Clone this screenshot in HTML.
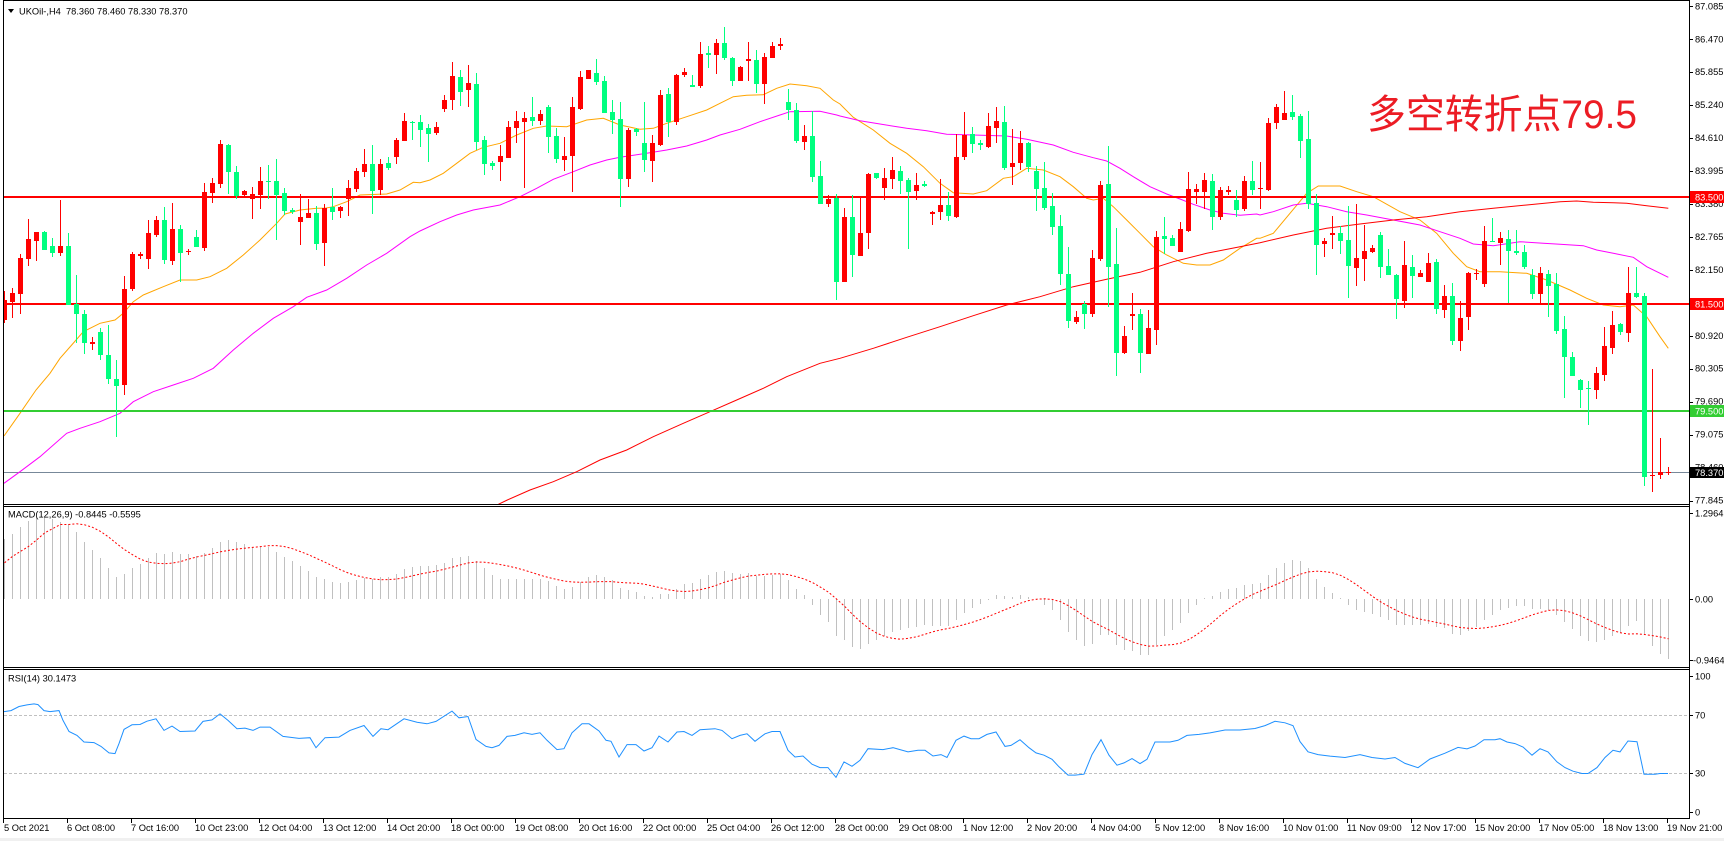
<!DOCTYPE html>
<html><head><meta charset="utf-8">
<style>
html,body{margin:0;padding:0;background:#fff;overflow:hidden;}
svg{display:block;}
text{font-family:"Liberation Sans","Noto Sans CJK SC",sans-serif;font-size:9.3px;fill:#000;white-space:pre;}
</style></head>
<body>
<svg id="c" width="1724" height="841" xmlns="http://www.w3.org/2000/svg">
<defs>
<clipPath id="cp"><rect x="4" y="1" width="1685" height="503"/></clipPath>
<clipPath id="cm"><rect x="4" y="507" width="1685" height="160"/></clipPath>
<clipPath id="cr"><rect x="4" y="670" width="1685" height="148"/></clipPath>
</defs>
<rect x="0" y="0" width="1724" height="841" fill="#fff"/>
<rect x="0" y="838" width="1724" height="3" fill="#f0f0f0"/>
<g id="price" clip-path="url(#cp)" shape-rendering="crispEdges">
<rect x="4" y="472" width="1685" height="1" fill="#778899"/>
</g>
<g id="macd" clip-path="url(#cm)" shape-rendering="crispEdges"></g>
<g id="rsi" clip-path="url(#cr)">
<line x1="4" y1="715.5" x2="1689" y2="715.5" stroke="#c0c0c0" stroke-width="1" stroke-dasharray="3,2"/>
<line x1="4" y1="773.5" x2="1689" y2="773.5" stroke="#c0c0c0" stroke-width="1" stroke-dasharray="3,2"/>
</g>
<g id="frame" shape-rendering="crispEdges" fill="#000">
<rect x="3" y="0" width="1687" height="1"/>
<rect x="3" y="0" width="1" height="819"/>
<rect x="1689" y="0" width="1" height="819"/>
<rect x="3" y="504" width="1687" height="1"/>
<rect x="3" y="506" width="1687" height="1"/>
<rect x="3" y="667" width="1687" height="1"/>
<rect x="3" y="669" width="1687" height="1"/>
<rect x="3" y="818" width="1687" height="1"/>
</g>
<g id="ticks" shape-rendering="crispEdges" fill="#000"></g>
<polygon points="8,9 14,9 11,13" fill="#000"/>
<text x="19" y="14.5">UKOil-,H4  78.360 78.460 78.330 78.370</text>
<text x="8" y="517.5">MACD(12,26,9) -0.8445 -0.5595</text>
<text x="8" y="681.5">RSI(14) 30.1473</text>
<text x="1367" y="128" style="font-size:40px;fill:#ec1c24;" textLength="270" lengthAdjust="spacingAndGlyphs">多空转折点79.5</text>
<g id="yaxis">
<text x="1695" y="9.3">87.085</text>
<text x="1695" y="42.3">86.470</text>
<text x="1695" y="75.2">85.855</text>
<text x="1695" y="108.2">85.240</text>
<text x="1695" y="141.1">84.610</text>
<text x="1695" y="174.1">83.995</text>
<text x="1695" y="207">83.380</text>
<text x="1695" y="240">82.765</text>
<text x="1695" y="272.9">82.150</text>
<text x="1695" y="338.8">80.920</text>
<text x="1695" y="371.7">80.305</text>
<text x="1695" y="404.6">79.690</text>
<text x="1695" y="437.6">79.075</text>
<text x="1695" y="470.5">78.460</text>
<text x="1695" y="503.4">77.845</text>
<rect x="1690" y="191" width="34" height="12" fill="#ff0000"/>
<text x="1695" y="200.5" style="fill:#fff">83.500</text>
<rect x="1690" y="298" width="34" height="12" fill="#ff0000"/>
<text x="1695" y="307.5" style="fill:#fff">81.500</text>
<rect x="1690" y="405" width="34" height="12" fill="#32cd32"/>
<text x="1695" y="414.5" style="fill:#fff">79.500</text>
<rect x="1690" y="467" width="34" height="11" fill="#000"/>
<text x="1695" y="476" style="fill:#fff">78.370</text>
<text x="1695" y="516.5">1.2964</text>
<text x="1695" y="602.5">0.00</text>
<text x="1693" y="663.5">-0.9464</text>
<text x="1695" y="679.5">100</text>
<text x="1695" y="718.5">70</text>
<text x="1695" y="776.5">30</text>
<text x="1695" y="815.5">0</text>
</g>
<g id="xaxis">
<text x="4" y="831">5 Oct 2021</text>
<text x="67" y="831">6 Oct 08:00</text>
<text x="131" y="831">7 Oct 16:00</text>
<text x="195" y="831">10 Oct 23:00</text>
<text x="259" y="831">12 Oct 04:00</text>
<text x="323" y="831">13 Oct 12:00</text>
<text x="387" y="831">14 Oct 20:00</text>
<text x="451" y="831">18 Oct 00:00</text>
<text x="515" y="831">19 Oct 08:00</text>
<text x="579" y="831">20 Oct 16:00</text>
<text x="643" y="831">22 Oct 00:00</text>
<text x="707" y="831">25 Oct 04:00</text>
<text x="771" y="831">26 Oct 12:00</text>
<text x="835" y="831">28 Oct 00:00</text>
<text x="899" y="831">29 Oct 08:00</text>
<text x="963" y="831">1 Nov 12:00</text>
<text x="1027" y="831">2 Nov 20:00</text>
<text x="1091" y="831">4 Nov 04:00</text>
<text x="1155" y="831">5 Nov 12:00</text>
<text x="1219" y="831">8 Nov 16:00</text>
<text x="1283" y="831">10 Nov 01:00</text>
<text x="1347" y="831">11 Nov 09:00</text>
<text x="1411" y="831">12 Nov 17:00</text>
<text x="1475" y="831">15 Nov 20:00</text>
<text x="1539" y="831">17 Nov 05:00</text>
<text x="1603" y="831">18 Nov 13:00</text>
<text x="1667" y="831">19 Nov 21:00</text>
</g>
</svg>
<script>
(function(){
var NS="http://www.w3.org/2000/svg";
function el(tag,a,p){var e=document.createElementNS(NS,tag);for(var k in a)e.setAttribute(k,a[k]);p.appendChild(e);return e;}
var P=document.getElementById('price'),M=document.getElementById('macd'),R=document.getElementById('rsi'),T=document.getElementById('ticks');
function Y(z){return 20+z/3;}
var D=[
[1,840,900,812,908],[1,820,845,805,893],[1,714,822,703,881],[1,657,716,597,737],[1,636,662,636,722],
[0,636,689,633,689],[0,679,698,655,710],[1,679,698,540,707],[0,679,856,639,856],[0,852,882,765,970],
[0,882,970,870,1001],[1,966,971,952,990],[0,936,1004,924,1019],[0,1004,1076,915,1091],[0,1077,1097,1020,1250],
[1,807,1094,768,1125],[1,702,807,696,812],[1,702,708,696,718],[1,639,716,600,746],[1,600,645,588,651],
[0,600,719,561,731],[1,627,722,548,734],[0,627,698,615,785],[1,693,697,686,704],[0,651,680,630,680],
[1,516,683,489,692],[1,489,518,474,549],[1,372,491,359,503],[0,375,455,372,521],[0,456,527,438,537],
[1,513,525,510,527],[1,522,536,501,597],[1,483,525,441,566],[0,483,486,435,537],[0,483,525,417,660],
[0,519,573,504,585],[0,570,575,563,583],[1,591,606,521,675],[1,579,594,537,594],[0,579,671,558,690],
[1,564,669,551,737],[0,561,576,504,600],[1,561,573,558,594],[1,504,537,480,588],[1,453,507,444,516],
[1,432,456,387,471],[0,432,513,375,582],[1,432,510,417,525],[0,429,444,411,450],[1,360,411,354,432],
[1,303,363,279,363],[0,306,309,303,360],[0,306,330,285,381],[0,324,342,312,426],
[1,321,339,306,345],[1,240,267,225,276],[1,168,240,126,270],[0,171,216,150,258],[1,189,210,135,261],
[0,192,366,159,390],[0,360,432,348,465],[0,429,438,423,450],[1,408,426,375,483],[1,321,414,303,414],
[1,303,324,273,369],[1,294,306,276,504],[0,291,303,231,318],[1,282,303,270,315],[0,261,351,255,399],
[0,348,417,324,429],[1,408,420,351,453],[1,261,408,231,516],[1,171,267,153,270],[1,150,177,150,177],
[0,159,186,117,195],[0,183,279,168,279],[0,276,300,240,342],[0,297,477,246,561],[1,330,477,324,501],
[0,327,336,324,348],[0,369,420,246,456],[1,369,423,345,486],[1,225,375,210,378],[0,222,306,204,351],
[1,165,306,162,315],[1,156,165,144,171],[0,195,201,165,201],[1,102,198,66,204],[0,99,105,78,144],
[1,69,105,57,162],[0,69,114,21,120],[0,114,183,111,198],[1,141,183,138,183],[1,117,123,66,183],
[0,120,192,90,219],[1,111,192,99,252],[1,78,114,66,114],[1,72,78,54,90],[0,246,270,207,300],
[0,270,363,249,369],[1,348,366,315,390],[0,348,471,273,486],[0,468,552,423,552],[1,537,552,525,561],
[0,533,786,521,840],[1,591,786,564,786],
[0,591,705,525,771],[1,639,708,534,708],[1,462,639,459,687],[0,459,474,459,477],[1,474,504,444,540],
[1,450,477,411,507],[0,453,483,438,522],[0,480,516,474,687],[1,495,513,459,540],[0,492,497,483,501],
[1,576,581,573,615],[1,555,576,477,600],[0,555,588,516,603],[1,411,591,342,594],[1,345,411,276,420],
[0,342,372,321,399],[0,369,374,360,390],[1,318,381,279,384],[1,303,324,261,369],[0,306,444,258,450],
[1,429,441,327,495],[1,369,429,333,450],[0,369,441,366,456],[0,453,507,438,573],[0,504,564,426,570],
[0,558,621,519,645],[0,618,762,585,795],[0,762,903,681,924],[1,891,906,873,912],[0,852,882,843,927],
[1,714,882,690,891],[1,495,717,483,723],[0,492,741,378,861],[0,732,999,624,1068],[1,948,999,918,1002],
[1,882,888,819,930],[0,882,999,867,1059],[1,924,1002,870,1002],[1,651,930,633,975],[0,648,657,591,702],
[0,654,678,645,678],[1,627,696,606,696],[1,507,633,456,636],[1,507,516,492,552],[1,480,516,459,567],
[0,483,591,462,630],[1,510,591,501,600],[1,510,516,498,525],[0,540,570,510,591],[1,483,567,468,573],
[0,483,510,423,525],[1,504,507,426,567],[1,309,510,294,513],
[1,261,309,252,327],[1,279,299,213,299],[0,276,291,225,300],[0,288,363,282,414],[0,357,552,273,567],
[0,549,675,522,765],[1,663,671,654,711],[1,639,645,588,687],[0,639,663,618,702],[0,660,738,558,834],
[1,714,744,552,798],[1,693,717,615,783],[1,684,696,675,699],[0,645,741,636,774],[0,738,765,687,765],
[0,765,837,762,897],[1,735,843,663,864],[0,741,768,705,834],[1,759,771,750,771],[1,729,786,699,786],
[0,726,867,717,882],[1,828,870,795,894],[0,828,963,789,975],[1,894,963,843,993],[1,759,891,756,930],
[1,759,763,747,780],[1,663,792,618,801],[0,663,666,594,666],[1,654,669,636,735],[0,657,693,630,849],
[0,693,699,630,705],[0,696,741,675,747],[0,765,822,747,837],[1,759,822,741,855],[0,762,798,750,891],
[0,792,933,759,942],[0,927,1011,888,1134],[0,1011,1068,996,1068],[0,1080,1110,1077,1164],[0,1104,1107,1083,1215],
[1,1059,1110,1041,1137],[1,978,1065,921,1083],[1,915,984,873,1002],[0,912,936,909,945],[1,819,939,741,966],
[0,819,831,741,834],[0,828,1371,819,1398],[1,1365,1369,1047,1416],[1,1356,1365,1254,1377],[1,1356,1359,1341,1365]
];
var N=D.length,off=209-N;
function CX(k){return 4+8*(k+off);}
// MA lines
function poly(segs,color){
  var pts=[];
  segs.forEach(function(s){var x0=s[0];s[1].forEach(function(p){pts.push((x0+p[0]/3).toFixed(1)+','+Y(p[1]).toFixed(1));});});
  el('polyline',{points:pts.join(' '),fill:'none',stroke:color,'stroke-width':1,'shape-rendering':'auto'},P);
}
poly([[0,[[12,1248],[60,1180],[108,1110],[150,1060],[180,1015],[215,975],[250,935],[300,910],[345,900],[370,880],[400,845],[430,825],[490,800],[540,780],[590,780],[630,770],[680,745],[730,705],[780,660],[830,610],[855,582],[900,570],[950,565],[975,565],[1000,560],[1040,545],[1080,525],[1160,522],[1200,510],[1240,487]]],
[420,[[0,488],[30,480],[70,460],[110,430],[150,400],[190,382],[240,370],[290,345],[340,325],[380,318],[440,320],[500,300],[550,295],[600,315],[660,328],[700,325],[740,310],[800,290],[860,270],[900,250],[940,230],[980,226],[1030,224],[1070,205],[1110,192],[1160,197],[1200,205],[1240,240]]],
[840,[[0,252],[40,292],[100,330],[150,370],[200,400],[250,440],[300,490],[340,518],[400,522],[440,512],[490,475],[520,470],[560,445],[610,450],[660,470],[700,500],[740,535],[760,540],[790,535],[820,560],[860,600],[900,640],[940,680],[980,705],[1030,730],[1070,735],[1110,735],[1150,720],[1200,685],[1250,655]]],
[1260,[[0,655],[40,640],[90,580],[140,520],[175,498],[240,498],[290,515],[340,530],[420,575],[480,600],[530,640],[580,700],[620,740],[660,755],[720,755],[800,760],[860,780],[930,810],[980,835],[1030,855],[1080,860],[1120,855],[1160,890],[1200,950],[1225,985]]]],'#ffa500');
poly([[0,[[12,1390],[60,1355],[120,1310],[200,1240],[240,1225],[300,1205],[360,1180],[400,1145],[460,1115],[520,1095],[580,1075],[640,1045],[700,990],[760,940],[820,895],[880,860],[920,832],[980,810],[1040,775],[1100,735],[1160,700],[1230,650]]],
[420,[[0,633],[60,605],[110,585],[160,570],[240,555],[300,530],[350,505],[400,478],[460,455],[510,435],[560,420],[600,412],[680,400],[740,390],[800,378],[860,360],[900,345],[960,328],[1020,305],[1080,285],[1110,275],[1200,274],[1250,285]]],
[840,[[0,288],[60,302],[120,312],[200,325],[260,332],[320,343],[400,345],[500,348],[560,358],[640,375],[700,397],[760,413],[800,423],[840,445],[880,470],[930,500],[980,522],[1020,537],[1060,553],[1110,570],[1150,580],[1200,586],[1250,582]]],
[1260,[[0,585],[40,575],[100,555],[140,550],[200,560],[260,575],[320,585],[400,600],[480,615],[540,635],[600,655],[640,672],[700,677],[780,665],[850,670],[900,673],[970,677],[1010,690],[1060,700],[1120,712],[1160,740],[1225,772]]]],'#ff00ff');
poly([[420,[[200,1470],[262,1440],[330,1410],[400,1385],[470,1355],[540,1320],[620,1290],[700,1250],[790,1210],[870,1175],[950,1140],[1030,1105],[1100,1070],[1200,1030],[1260,1015]]],
[840,[[0,1015],[100,985],[200,952],[300,920],[400,887],[500,855],[600,830],[700,800],[800,778],[900,757],[1000,725],[1100,700],[1200,680],[1260,668]]],
[1260,[[0,668],[100,645],[200,625],[300,612],[400,600],[500,590],[600,575],[700,565],[800,555],[900,545],[950,543],[1000,547],[1060,548],[1100,550],[1160,557],[1225,565]]]],'#ff0000');
// horizontal levels
el('rect',{x:4,y:196,width:1685,height:2,fill:'#ff0000'},P);
el('rect',{x:4,y:303,width:1685,height:2,fill:'#ff0000'},P);
el('rect',{x:4,y:410,width:1685,height:2,fill:'#32cd32'},P);
// candles
for(var k=0;k<N;k++){
  var d=D[k],cx=CX(k),col=d[0]?'#ff0000':'#00ff7f';
  var wt=Math.round(Y(d[3])),wb=Math.round(Y(d[4])),bt=Math.round(Y(d[1])),bb=Math.round(Y(d[2]));
  el('rect',{x:cx,y:wt,width:1,height:Math.max(1,wb-wt),fill:col},P);
  el('rect',{x:cx-2,y:bt,width:5,height:Math.max(1,bb-bt),fill:col},P);
}
// MACD
function price(z){return 83.5-(Y(z)-196.7)/53.5;}
var main=[0.85,0.92,1.01,1.10,1.14,1.15,1.12,1.09,1.06,0.94,0.80,0.69,0.58,0.44,0.31,0.35,0.44,0.49,0.58,0.65,0.63,0.66,0.63,0.63,0.61,0.65,0.72,0.80,0.83,0.80,0.77,0.73,0.73,0.73,0.66,0.59,0.54];
var e12=83.6,e26=83.06;
for(var k=37;k<N;k++){var d=D[k],c=price(d[0]?d[1]:d[2]);e12+=(c-e12)*2/13;e26+=(c-e26)*2/27;main.push(e12-e26);}
var sig=[0.51,0.60,0.67,0.74,0.83,0.93,0.99,1.05];
for(var k=8;k<N;k++){var s=0;for(var j=k-8;j<=k;j++)s+=main[j];sig.push(s/9);}
function MY(v){return 599-v*71;}
for(var k=0;k<N;k++){var cx=CX(k),y=Math.round(MY(main[k]));
  if(y<599)el('rect',{x:cx,y:y,width:1,height:599-y,fill:'#c0c0c0'},M);
  else el('rect',{x:cx,y:599,width:1,height:Math.max(1,y-599),fill:'#c0c0c0'},M);}
var sp=[];for(var k=0;k<N;k++)sp.push((CX(k)+0.5)+','+MY(sig[k]).toFixed(1));
el('polyline',{points:sp.join(' '),fill:'none',stroke:'#ff0000','stroke-width':1,'stroke-dasharray':'2,2','shape-rendering':'auto'},M);
// RSI
var RS=[[4,72.7],[11,73.4],[19,76.2],[27,77.3],[34,78],[38,77.5],[44,73.4],[50,72.7],[59,73.4],[63,66.6],[69,59],[77,56.3],[84,51.7],[94,51.3],[101,48.7],[109,44.2],[115,43.7],[119,50.6],[124,60.4],[132,63.6],[140,63.8],[147,66.1],[156,67.7],[164,59.7],[172,62.7],[180,59],[195,59.3],[203,65.9],[212,67],[220,71.1],[228,66.6],[237,60.9],[245,61.3],[253,59.7],[260,62],[270,62],[283,55.6],[299,54.2],[310,54.7],[316,47.8],[325,54.7],[339,55.1],[350,59.7],[364,63.1],[373,55.6],[381,60.9],[388,60.2],[404,67.7],[417,65.4],[427,64.3],[436,65.9],[452,73],[459,68.4],[468,69.3],[476,53.5],[486,48.7],[492,47.8],[499,49.4],[507,55.6],[515,56.3],[524,58.1],[532,57],[540,58.1],[547,52.9],[557,46.5],[564,47.1],[572,58.1],[582,64.3],[589,64.3],[599,59.3],[606,52.9],[611,52.2],[619,41.4],[627,49.9],[636,49.9],[644,45.5],[652,47.8],[659,55.8],[668,51.7],[677,58.6],[684,59],[692,56.3],[700,60.2],[715,60.9],[722,59.7],[732,54],[740,56.3],[747,57.4],[755,52.2],[765,57.4],[772,59],[780,59],[788,46],[795,41.4],[803,42.1],[812,36.4],[820,34.1],[828,34.1],[836,27.3],[844,38],[852,35],[860,39.1],[868,47.1],[883,46.5],[893,47.8],[900,46.5],[908,44.9],[918,46],[925,46],[933,42.1],[941,43],[947,41],[956,52.9],[964,55.8],[971,54],[979,54],[987,57],[996,58.6],[1005,48.7],[1011,49.4],[1020,53.3],[1029,47.8],[1036,44.2],[1044,42.6],[1052,39.8],[1059,34.6],[1068,28.9],[1075,28.9],[1084,29.5],[1092,43],[1101,53.3],[1109,42.6],[1117,35.7],[1124,37.3],[1132,40.3],[1140,36.8],[1147,39.8],[1155,51.7],[1170,51.7],[1178,52.9],[1187,56.3],[1199,57],[1210,58],[1225,60],[1240,60],[1255,61],[1265,63],[1275,66],[1285,65],[1293,63],[1300,52],[1308,45],[1318,43],[1330,42],[1345,41],[1360,43],[1372,41],[1385,40],[1395,41],[1405,37],[1418,34],[1430,40],[1445,44],[1458,48],[1467,47],[1475,49],[1484,53.3],[1495,53.3],[1500,54],[1507,51.7],[1515,50.6],[1523,48.3],[1532,42.6],[1540,47.1],[1548,44.9],[1557,38],[1565,34.1],[1573,31.6],[1582,30],[1588,30],[1597,34.1],[1605,41],[1613,46],[1620,44.9],[1628,52.4],[1637,51.9],[1644,29.5],[1655,29.5],[1660,30],[1668,30]];
var rp=RS.map(function(p){return p[0]+','+(773.5-(p[1]-30)*1.45).toFixed(1);});
el('polyline',{points:rp.join(' '),fill:'none',stroke:'#1e90ff','stroke-width':1},R);
// ticks
var py=[5.5,38.5,71.5,104.5,137.5,170.5,203.5,236.5,269.5,302.5,335.5,368.5,401.5,434.5,467.5,500.5,513,599,660,676,715,773,812];
py.forEach(function(y){el('rect',{x:1690,y:Math.round(y),width:3,height:1},T);});
for(var i=0;i<27;i++){el('rect',{x:3+64*i,y:819,width:1,height:4},T);}
})();
</script>
</body></html>
